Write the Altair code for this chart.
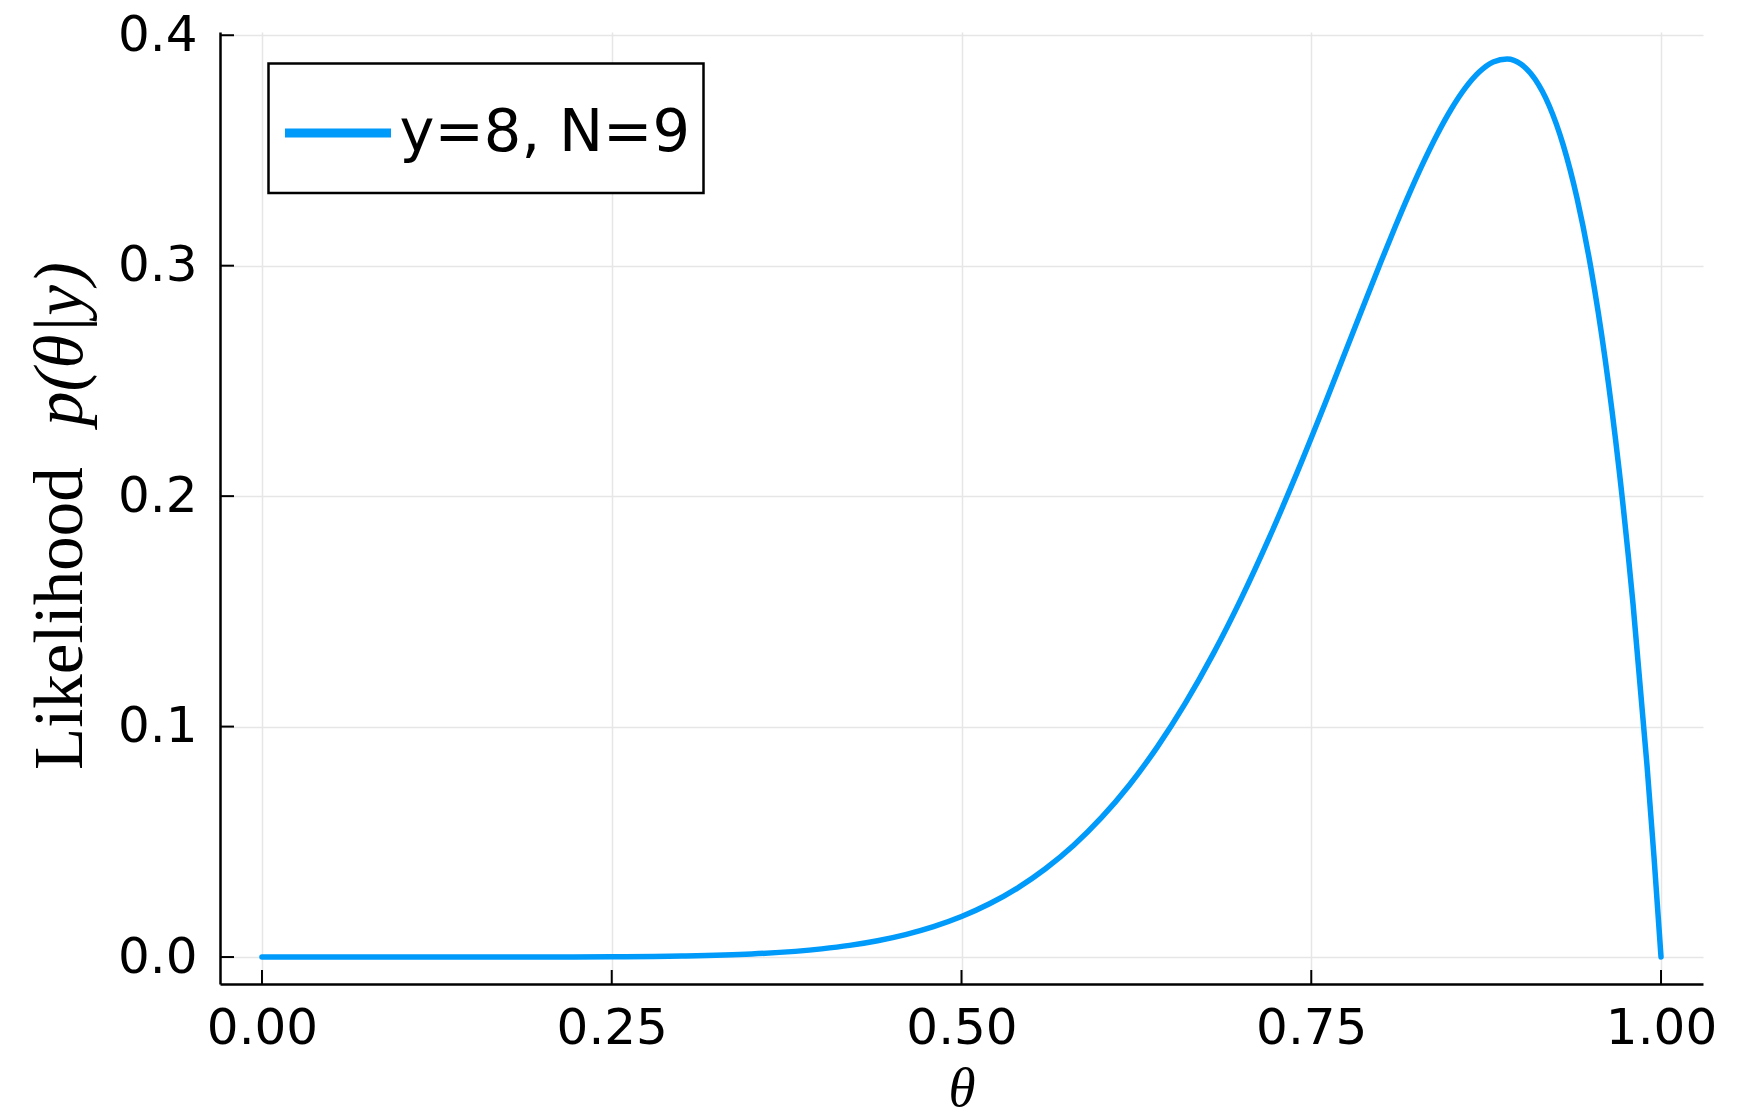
import altair as alt
import pandas as pd

# Likelihood curve values (y=8, N=9)
theta = [0.0, 0.05, 0.10, 0.15, 0.20, 0.25, 0.30, 0.35, 0.40, 0.42, 0.44, 0.46, 0.48,
         0.50, 0.52, 0.54, 0.56, 0.58, 0.60, 0.62, 0.64, 0.66, 0.68, 0.70, 0.72, 0.74,
         0.76, 0.78, 0.80, 0.81, 0.82, 0.83, 0.84, 0.85, 0.86, 0.87, 0.88, 0.89, 0.90,
         0.91, 0.92, 0.93, 0.94, 0.95, 0.96, 0.97, 0.98, 0.99, 0.995, 1.0]
likelihood = [0.0, 0.0, 0.0000001, 0.000002, 0.0000184, 0.000103, 0.000413, 0.001317,
              0.003539, 0.005054, 0.007080, 0.009743, 0.013188, 0.017578, 0.023095,
              0.029933, 0.038300, 0.048408, 0.060466, 0.074669, 0.091198, 0.110172,
              0.131663, 0.155650, 0.181995, 0.210412, 0.240416, 0.271283, 0.301990,
              0.316866, 0.331151, 0.344600, 0.356941, 0.367863, 0.377015, 0.384008,
              0.388405, 0.389722, 0.387420, 0.380905, 0.369518, 0.352537, 0.329167,
              0.298539, 0.259700, 0.211611, 0.153137, 0.083047, 0.043231, 0.0]
series_name = "y=8, N=9"

x_ticks = [0.0, 0.25, 0.5, 0.75, 1.0]
y_ticks = [0.0, 0.1, 0.2, 0.3, 0.4]

W, H = 1483, 952

df = pd.DataFrame({"theta": theta, "likelihood": likelihood,
                   "series": [series_name] * len(theta)})

xscale = alt.Scale(domain=[-0.03, 1.03], nice=False, zero=False)
yscale = alt.Scale(domain=[-0.0117, 0.4014], nice=False, zero=False)

common_axis = dict(
    grid=True, gridColor="#e6e6e6", gridWidth=1.5,
    domainColor="black", domainWidth=2.5,
    ticks=False, tickSize=0,
    labelFont="DejaVu Sans", labelFontSize=50, labelColor="black",
    labelFlush=False, labelOverlap=False,
)

x_axis = alt.Axis(values=x_ticks, format=".2f", labelPadding=59,
                  labelBaseline="alphabetic", title="θ",
                  titleFont="Liberation Serif", titleFontStyle="italic",
                  titleFontSize=55, titleFontWeight="normal",
                  titleColor="black", titleBaseline="alphabetic",
                  titleY=121, **common_axis)
y_axis = alt.Axis(values=y_ticks, format=".1f", labelPadding=23,
                  title="", **common_axis)

line = alt.Chart(df).mark_line(strokeWidth=5.5, strokeCap="round",
                               strokeJoin="round", interpolate="monotone").encode(
    x=alt.X("theta:Q", scale=xscale, axis=x_axis),
    y=alt.Y("likelihood:Q", scale=yscale, axis=y_axis),
    color=alt.Color("series:N",
                    scale=alt.Scale(domain=[series_name], range=["#009AFA"]),
                    legend=alt.Legend(orient="none", legendX=48.5, legendY=31.5,
                                      title=None, symbolType="stroke",
                                      symbolSize=11236, symbolStrokeWidth=9,
                                      labelFont="DejaVu Sans", labelFontSize=59,
                                      labelColor="black", labelOffset=4,
                                      labelLimit=1000, padding=12)),
)

xt = alt.Chart(pd.DataFrame({"theta": x_ticks})).mark_rule(color="black", strokeWidth=2).encode(
    x=alt.X("theta:Q", scale=xscale, axis=x_axis),
    y=alt.value(H), y2=alt.value(H - 14),
)
yt = alt.Chart(pd.DataFrame({"likelihood": y_ticks})).mark_rule(color="black", strokeWidth=2).encode(
    y=alt.Y("likelihood:Q", scale=yscale, axis=y_axis),
    x=alt.value(0), x2=alt.value(14),
)

legend_box = alt.Chart(pd.DataFrame({"a": [0]})).mark_rect(
    fill="white", stroke="black", strokeWidth=2.5).encode(
    x=alt.value(48.5), x2=alt.value(483.5), y=alt.value(31.5), y2=alt.value(161),
)

ytitle1 = alt.Chart(pd.DataFrame({"label": ["Likelihood"]})).mark_text(
    angle=270, align="left", baseline="alphabetic", font="Liberation Serif",
    fontSize=69, color="black").encode(
    x=alt.value(-138), y=alt.value(738), text="label:N")
ytitle2 = alt.Chart(pd.DataFrame({"label": ["p(θ|y)"]})).mark_text(
    angle=270, align="left", baseline="alphabetic", font="Liberation Serif",
    fontStyle="italic", fontSize=69, color="black").encode(
    x=alt.value(-138), y=alt.value(394), text="label:N")

chart = alt.layer(line, xt, yt, legend_box, ytitle1, ytitle2).properties(
    width=W, height=H,
    autosize=alt.AutoSizeParams(type="none"),
    padding={"left": 220, "top": 32, "right": 52, "bottom": 134},
    background="white",
).configure_view(strokeWidth=0)

chart.save("out.html", embed_options={"renderer": "svg", "actions": False})
